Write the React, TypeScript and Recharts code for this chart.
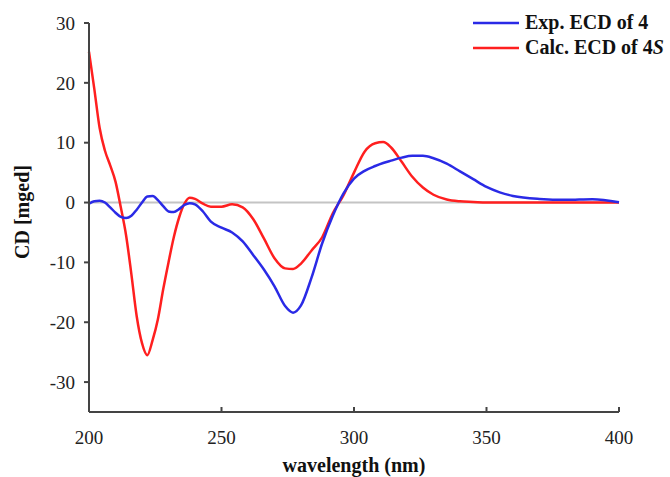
import { LineChart, Line, XAxis, YAxis, ReferenceLine, Legend, Label } from 'recharts';

const wavelengths = [
  200, 202, 204, 206, 208, 210, 212, 214, 216, 218, 220, 222, 224, 226, 228, 230, 232, 234, 236, 238,
  240, 243, 246, 250, 254, 258, 262, 266, 270, 274, 277, 280, 284, 288, 292, 296, 300, 304, 308, 311,
  314, 318, 322, 326, 330, 335, 340, 345, 350, 355, 360, 370, 380, 390, 400,
];

const expEcd = [
  -0.2, 0.2, 0.3, 0.0, -0.8, -1.7, -2.4, -2.6, -2.2, -1.2, 0.0, 1.0, 1.1, 0.4, -0.6, -1.5, -1.6, -1.1, -0.4, -0.1,
  -0.3, -1.5, -3.2, -4.2, -5.0, -6.5, -8.8, -11.2, -14.0, -17.3, -18.4, -17.2, -12.5, -6.8, -2.2, 1.5, 4.0, 5.3, 6.1, 6.6,
  7.0, 7.5, 7.8, 7.8, 7.4, 6.5, 5.2, 3.9, 2.6, 1.7, 1.1, 0.6, 0.45, 0.55, 0.05,
];

const calcEcd = [
  25.2, 19.0, 12.5, 8.7, 6.2, 3.5, -0.8, -5.5, -12.0, -19.0, -23.5, -25.5, -23.0, -19.5, -14.5, -10.0, -5.8, -2.5, -0.2, 0.8,
  0.6, -0.2, -0.7, -0.7, -0.3, -0.8, -2.8, -6.0, -9.3, -11.0, -11.1, -10.2, -8.0, -5.8, -1.8, 1.2, 5.0, 8.5, 9.9, 10.1,
  9.2, 6.8, 4.3, 2.5, 1.3, 0.5, 0.2, 0.1, 0.0, 0.0, 0.0, 0.0, 0.0, 0.0, 0.0,
];

const xTicks = [200, 250, 300, 350, 400];
const yTicks = [-30, -20, -10, 0, 10, 20, 30];

const data = wavelengths.map((wl, i) => ({ wl, exp: expEcd[i], calc: calcEcd[i] }));

const font = 'Liberation Serif, DejaVu Serif, serif';
const blue = '#2a2ae6';
const red = '#ff1f1f';
const axisColor = '#444';

function LegendBox() {
  const row = (color: string, label: React.ReactNode) => (
    <div style={{ display: 'flex', alignItems: 'center', height: 25 }}>
      <svg width={46} height={4} style={{ marginRight: 6 }}>
        <line x1={0} y1={2} x2={46} y2={2} stroke={color} strokeWidth={2.5} />
      </svg>
      <span style={{ fontFamily: font, fontWeight: 'bold', fontSize: 20, color: '#111', whiteSpace: 'nowrap' }}>
        {label}
      </span>
    </div>
  );
  return (
    <div>
      {row(blue, 'Exp. ECD of 4')}
      {row(red, <>Calc. ECD of 4<i>S</i></>)}
    </div>
  );
}

export default function App() {
  return (
    <div style={{ position: 'absolute', left: 0, top: 0, background: '#fff', fontFamily: font }}>
      <LineChart width={670} height={477} data={data} margin={{ top: 23, right: 51, left: 0, bottom: 0 }}>
        <XAxis
          dataKey="wl"
          type="number"
          domain={[200, 400]}
          ticks={xTicks}
          height={65}
          tickSize={-5}
          tickMargin={24}
          stroke={axisColor}
          strokeWidth={2}
          tick={{ fill: '#222', fontFamily: font, fontSize: 19 }}
        >
          <Label
            value="wavelength (nm)"
            position="insideBottom"
            offset={5}
            style={{ fontFamily: font, fontWeight: 'bold', fontSize: 20, fill: '#111' }}
          />
        </XAxis>
        <YAxis
          type="number"
          domain={[-35, 30]}
          ticks={yTicks}
          width={89}
          tickSize={5}
          tickMargin={9}
          stroke={axisColor}
          strokeWidth={2}
          tick={{ fill: '#222', fontFamily: font, fontSize: 19 }}
        >
          <Label
            content={() => (
              <text
                x={22}
                y={212}
                transform="rotate(-90 22 212)"
                textAnchor="middle"
                dominantBaseline="central"
                style={{ fontFamily: font, fontWeight: 'bold', fontSize: 20, fill: '#111' }}
              >
                CD [mged]
              </text>
            )}
          />
        </YAxis>
        <ReferenceLine y={0} stroke="#c4c4c4" strokeWidth={2} />
        <Legend
          content={() => <LegendBox />}
          verticalAlign="middle"
          align="center"
          layout="horizontal"
          wrapperStyle={{ top: 10, left: 473, width: 200 }}
        />
        <Line
          type="monotone"
          dataKey="calc"
          stroke={red}
          strokeWidth={2.5}
          dot={false}
          isAnimationActive={false}
        />
        <Line
          type="monotone"
          dataKey="exp"
          stroke={blue}
          strokeWidth={2.5}
          dot={false}
          isAnimationActive={false}
        />
      </LineChart>
    </div>
  );
}
